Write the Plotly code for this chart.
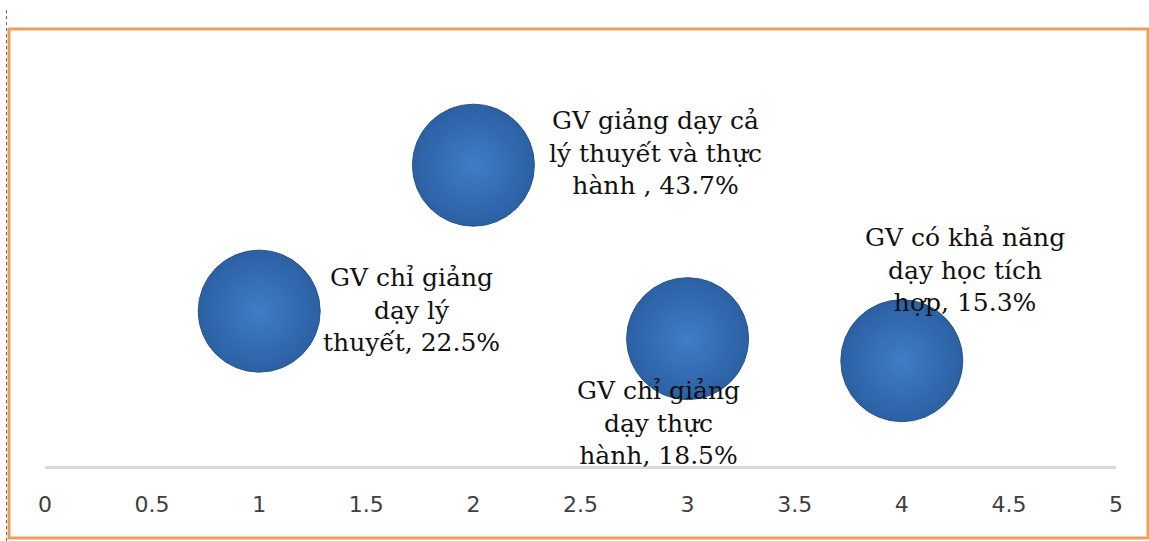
import plotly.graph_objects as go

# Survey categories (label lines) and their shares in percent
categories = [
    "GV chỉ giảng<br>dạy lý<br>thuyết",
    "GV giảng dạy cả<br>lý thuyết và thực<br>hành ",
    "GV chỉ giảng<br>dạy thực<br>hành",
    "GV có khả năng<br>dạy học tích<br>hợp",
]
x_pos = [1, 2, 3, 4]
shares = [22.5, 43.7, 18.5, 15.3]
bubble_size = [1, 1, 1, 1]
tick_vals = [0, 0.5, 1, 1.5, 2, 2.5, 3, 3.5, 4, 4.5, 5]
tick_text = ["0", "0.5", "1", "1.5", "2", "2.5", "3", "3.5", "4", "4.5", "5"]

# Label placement (pixel offsets from each bubble centre)
label_anchor = [("left", "middle"), ("left", "middle"), ("center", "top"), ("center", "bottom")]
label_shift = [(62, 1), (74, 12), (-29, -35), (63, 42)]

W, H = 1149, 541
L, R, T, B = 45, 33, 53, 75

fig = go.Figure()

fig.add_trace(go.Scatter(
    x=x_pos, y=shares, mode="markers",
    marker=dict(
        size=[s * 122 for s in bubble_size], sizemode="diameter",
        color="#2c60a3",
        gradient=dict(type="radial", color="#3f7dc6"),
        line=dict(color="#26578f", width=1),
        opacity=1,
    ),
    hoverinfo="skip", showlegend=False,
))

for name, xv, yv, (xa, ya), (dx, dy) in zip(categories, x_pos, shares, label_anchor, label_shift):
    fig.add_annotation(
        x=xv, y=yv, xref="x", yref="y",
        text=f"{name}, {yv:.1f}%",
        showarrow=False, align="center",
        xanchor=xa, yanchor=ya, xshift=dx, yshift=dy,
        font=dict(family="DejaVu Serif", size=25, color="#111111"),
    )

plot_w = W - L - R
plot_h = H - T - B


def px_x(p):
    return (p - L) / plot_w


def px_y(p):
    return (H - B - p) / plot_h


# Orange chart frame
fig.add_shape(type="rect", xref="paper", yref="paper",
              x0=px_x(9), x1=px_x(1148), y0=px_y(538), y1=px_y(29),
              line=dict(color="#ef9d5c", width=3), fillcolor="rgba(0,0,0,0)", layer="above")
# Dotted page edge on the left
fig.add_shape(type="line", xref="paper", yref="paper",
              x0=px_x(6.5), x1=px_x(6.5), y0=px_y(541), y1=px_y(8),
              line=dict(color="#666666", width=1, dash="dot"))

fig.update_layout(
    width=W, height=H,
    margin=dict(l=L, r=R, t=T, b=B, pad=0),
    paper_bgcolor="white", plot_bgcolor="white",
    xaxis=dict(
        range=[0, 5], tickvals=tick_vals, ticktext=tick_text,
        showgrid=False, zeroline=False,
        showline=True, linecolor="#d9d9d9", linewidth=3,
        ticks="outside", ticklen=17, tickcolor="rgba(0,0,0,0)",
        tickfont=dict(family="DejaVu Sans", size=22, color="#404040"),
        fixedrange=True,
    ),
    yaxis=dict(range=[0, 60], visible=False, fixedrange=True),
)

fig.write_html("out.html")
